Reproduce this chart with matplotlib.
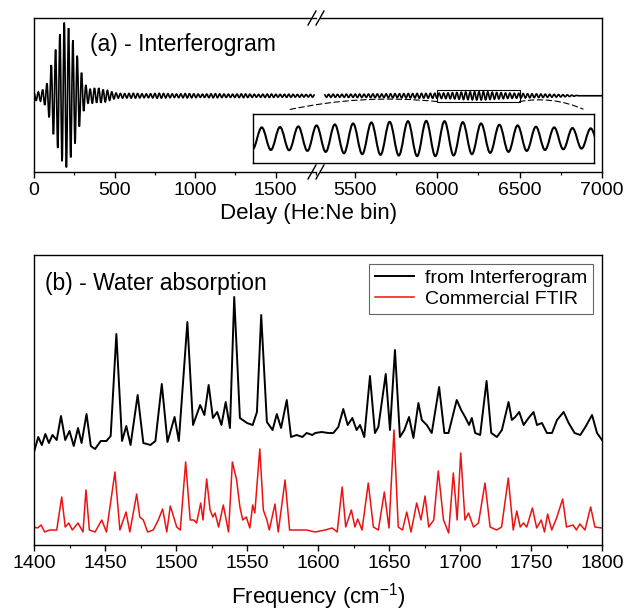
import numpy as np
import matplotlib
matplotlib.use("Agg")
import matplotlib.pyplot as plt
from matplotlib.path import Path
from matplotlib.patches import PathPatch, Rectangle, ConnectionPatch
from matplotlib.lines import Line2D
from matplotlib.ticker import MultipleLocator

plt.rcParams['font.family'] = ['Liberation Sans', 'DejaVu Sans']
plt.rcParams['mathtext.default'] = 'regular'

# ---- (a) interferogram: signed extremum values, one per half fringe ----
half_fringe = 13.4          # He:Ne bins between successive extrema
ifg_left_start = 0.0
ifg_left = [
    0.04, -0.06, 0.05, -0.07, 0.08, -0.12, 0.16, -0.28, 0.40, -0.50,
    0.60, -0.68, 0.80, -0.85, 0.95, -0.93, 0.88, -0.80, 0.72, -0.62,
    0.52, -0.40, 0.30, -0.20, 0.14, -0.10, 0.09, -0.10, 0.10, -0.09,
    0.10, -0.09, 0.08, -0.08, 0.07, -0.06, 0.05, -0.04, 0.035, -0.03,
    0.03, -0.03, 0.028, -0.028, 0.03, -0.03, 0.032, -0.03, 0.03, -0.028,
    0.026, -0.025, 0.024, -0.025, 0.026, -0.028, 0.03, -0.032, 0.032, -0.03,
    0.03, -0.028, 0.026, -0.025, 0.024, -0.022, 0.022, -0.024, 0.025, -0.026,
    0.028, -0.028, 0.027, -0.026, 0.025, -0.024, 0.022, -0.02, 0.02, -0.021,
    0.022, -0.024, 0.025, -0.026, 0.026, -0.025, 0.024, -0.023, 0.022, -0.022,
    0.021, -0.02, 0.02, -0.021, 0.022, -0.023, 0.024, -0.024, 0.023, -0.022,
    0.021, -0.02, 0.019, -0.018, 0.018, -0.019, 0.02, -0.021, 0.022, -0.022,
    0.021, -0.02, 0.019, -0.018, 0.018, -0.018, 0.019, -0.02, 0.02, -0.019,
    0.018, -0.017, 0.017, -0.018, 0.018, -0.017, 0.016, -0.016, 0.017, -0.017,
    0.016,
]
ifg_right_start = 5316.0
ifg_right = [
    0.018, -0.018, 0.019, -0.02, 0.02, -0.019, 0.018, -0.018, 0.019, -0.02,
    0.021, -0.021, 0.02, -0.02, 0.021, -0.022, 0.022, -0.022, 0.021, -0.021,
    0.022, -0.023, 0.024, -0.024, 0.024, -0.023, 0.023, -0.024, 0.025, -0.026,
    0.026, -0.027, 0.027, -0.026, 0.026, -0.027, 0.028, -0.029, 0.029, -0.028,
    0.028, -0.029, 0.03, -0.031, 0.031, -0.03, 0.03, -0.031, 0.032, -0.032,
    0.032, -0.033, 0.034, -0.035, 0.035, -0.036, 0.037, -0.038, 0.04, -0.041,
    0.043, -0.045, 0.046, -0.048, 0.049, -0.05, 0.051, -0.052, 0.053, -0.054,
    0.054, -0.054, 0.053, -0.052, 0.05, -0.048, 0.046, -0.044, 0.042, -0.041,
    0.04, -0.038, 0.036, -0.035, 0.034, -0.033, 0.032, -0.031, 0.031, -0.03,
    0.029, -0.028, 0.027, -0.026, 0.025, -0.024, 0.024, -0.023, 0.022, -0.022,
    0.021, -0.02, 0.019, -0.018, 0.018, -0.017, 0.016, -0.015, 0.014, -0.013,
    0.012, -0.01, 0.008, -0.006, 0.004,
]
ifg_flat_bins = [6860, 7000]
ifg_flat_vals = [0.0, 0.0]
zoom_window = (6000, 6500)
zoom_amp = 0.075

# ---- (b) water absorption (arb. units, interferogram trace offset) ----
freq_ifg = [
    1400, 1403, 1405.5, 1408, 1410.5, 1413, 1416, 1419, 1422, 1425,
    1428, 1431, 1433.5, 1437, 1440, 1443, 1447, 1451, 1454, 1458,
    1462, 1465, 1468, 1473, 1477, 1482, 1485.5, 1490, 1494, 1499,
    1502, 1508, 1512, 1517, 1520, 1523, 1526, 1529, 1532, 1535,
    1538, 1541, 1545, 1550, 1554, 1557, 1560, 1564, 1568, 1571,
    1574, 1578, 1581, 1585, 1589, 1592, 1596, 1598, 1602.6, 1607.3,
    1610.8, 1614.3, 1617.8, 1620.9, 1624.2, 1627.2, 1629.6, 1632.6, 1636.6, 1640.1,
    1642.5, 1647.7, 1650.7, 1654.2, 1657.7, 1660.8, 1664.1, 1667.2, 1670.7, 1673.1,
    1676.6, 1680.1, 1685.3, 1689.0, 1691.9, 1697.7, 1700.8, 1703.6, 1706.4, 1708.3,
    1710.7, 1714.2, 1718.7, 1722.0, 1726.0, 1729.5, 1734.2, 1736.5, 1738.9, 1741.7,
    1744.8, 1748.3, 1751.8, 1754.2, 1757.7, 1761.2, 1764.8, 1768.3, 1773.0, 1776.5,
    1780.7, 1784.7, 1788.3, 1793.0, 1796.5, 1800,
]
abs_ifg = [
    0.93, 1.08, 1.00, 1.11, 1.02, 1.10, 1.05, 1.29, 1.05, 1.14,
    0.99, 1.17, 1.02, 1.31, 0.99, 0.96, 1.04, 1.04, 1.09, 2.11,
    1.04, 1.19, 1.00, 1.50, 1.02, 1.00, 1.04, 1.61, 1.03, 1.28,
    1.04, 2.23, 1.20, 1.40, 1.30, 1.60, 1.27, 1.33, 1.20, 1.43,
    1.17, 2.48, 1.27, 1.22, 1.20, 1.33, 2.30, 1.23, 1.15, 1.31,
    1.17, 1.45, 1.08, 1.10, 1.08, 1.12, 1.10, 1.12, 1.13, 1.12,
    1.12, 1.18, 1.36, 1.20, 1.27, 1.15, 1.20, 1.08, 1.69, 1.12,
    1.18, 1.71, 1.15, 1.95, 1.08, 1.15, 1.28, 1.07, 1.42, 1.25,
    1.20, 1.12, 1.58, 1.12, 1.12, 1.45, 1.35, 1.28, 1.20, 1.27,
    1.12, 1.10, 1.64, 1.12, 1.08, 1.15, 1.43, 1.25, 1.28, 1.33,
    1.20, 1.27, 1.33, 1.20, 1.22, 1.12, 1.12, 1.25, 1.33, 1.22,
    1.12, 1.10, 1.18, 1.30, 1.12, 1.05,
]
freq_ftir = [
    1400, 1402.5, 1405, 1407.5, 1411, 1416, 1419.5, 1422, 1424.5, 1427,
    1431, 1434.5, 1436.6, 1439, 1443, 1447.7, 1451, 1457, 1460.5, 1464.8,
    1467.5, 1472.3, 1474.5, 1477, 1480, 1484, 1487.5, 1490.6, 1493.5, 1496,
    1500.5, 1503, 1506.8, 1510, 1512.5, 1514.5, 1517.4, 1519, 1521.6, 1524,
    1526, 1527.5, 1530, 1533.3, 1537, 1539.7, 1542.7, 1545, 1547, 1549.5,
    1552, 1554, 1555.5, 1559, 1561.5, 1564, 1565.7, 1569.7, 1572, 1576.8,
    1580, 1585, 1592, 1598, 1605, 1610, 1613.5, 1617, 1619.5, 1623.5,
    1626, 1628, 1631, 1635.4, 1639, 1642.5, 1646.7, 1650, 1653.5, 1656.5,
    1659.5, 1662.5, 1665.5, 1669.5, 1672.5, 1675.4, 1678, 1681.5, 1684.7, 1688.4,
    1692, 1695.3, 1698, 1700.5, 1703.5, 1706, 1709.5, 1713, 1717.6, 1721.2,
    1725.8, 1729.3, 1734, 1737.5, 1740, 1742.4, 1744.7, 1747, 1751, 1754,
    1757.2, 1759.5, 1761.7, 1764.6, 1768, 1772.3, 1775, 1779.6, 1782, 1784.4,
    1788, 1792, 1795, 1800,
]
abs_ftir = [
    0.18, 0.17, 0.20, 0.13, 0.15, 0.15, 0.48, 0.18, 0.22, 0.15,
    0.22, 0.13, 0.55, 0.15, 0.13, 0.25, 0.13, 0.73, 0.15, 0.33,
    0.13, 0.51, 0.28, 0.25, 0.13, 0.15, 0.25, 0.36, 0.13, 0.39,
    0.18, 0.15, 0.83, 0.25, 0.25, 0.22, 0.42, 0.25, 0.66, 0.35,
    0.28, 0.32, 0.18, 0.40, 0.13, 0.83, 0.65, 0.38, 0.25, 0.28,
    0.17, 0.40, 0.32, 0.96, 0.35, 0.25, 0.15, 0.41, 0.13, 0.65,
    0.15, 0.15, 0.15, 0.13, 0.15, 0.17, 0.13, 0.58, 0.18, 0.35,
    0.18, 0.26, 0.15, 0.62, 0.18, 0.15, 0.53, 0.17, 1.15, 0.18,
    0.15, 0.33, 0.13, 0.42, 0.25, 0.49, 0.18, 0.25, 0.74, 0.25,
    0.12, 0.72, 0.25, 0.92, 0.25, 0.32, 0.18, 0.22, 0.62, 0.18,
    0.15, 0.18, 0.67, 0.15, 0.34, 0.18, 0.22, 0.18, 0.37, 0.17,
    0.25, 0.13, 0.31, 0.15, 0.27, 0.46, 0.18, 0.20, 0.15, 0.21,
    0.15, 0.38, 0.18, 0.17,
]


def fringe_patch(x, y, lw=1.0):
    """smooth fringe line through the extrema (horizontal tangent at each one)"""
    verts = [(x[0], y[0])]
    codes = [Path.MOVETO]
    for i in range(1, len(x)):
        dx = x[i] - x[i - 1]
        verts += [(x[i - 1] + 0.36 * dx, y[i - 1]), (x[i] - 0.36 * dx, y[i]), (x[i], y[i])]
        codes += [Path.CURVE4] * 3
    return PathPatch(Path(verts, codes), fill=False, ec='k', lw=lw)


x_left = ifg_left_start + half_fringe * np.arange(len(ifg_left))
x_right = ifg_right_start + half_fringe * np.arange(len(ifg_right))
x_right = np.concatenate([x_right, ifg_flat_bins])
y_right = np.concatenate([ifg_right, ifg_flat_vals])

W, H = 625, 613
fig = plt.figure(figsize=(W / 100, H / 100), dpi=100)


def frac(x0, y0, x1, y1):
    return [x0 / W, 1 - y1 / H, (x1 - x0) / W, (y1 - y0) / H]


ax_l = fig.add_axes(frac(34, 18, 316, 172))
ax_r = fig.add_axes(frac(320, 18, 602, 172))
ax_b = fig.add_axes(frac(34, 255, 602, 545))

for ax in (ax_l, ax_r, ax_b):
    for s in ax.spines.values():
        s.set_linewidth(1.0)
    ax.tick_params(axis='x', direction='out', length=4, width=1.0, labelsize=14, pad=3)
    ax.tick_params(axis='x', which='minor', direction='out', length=2.5, width=0.9)
    ax.set_yticks([])

ax_l.add_patch(fringe_patch(x_left, ifg_left, 1.2))
ax_r.add_patch(fringe_patch(x_right, y_right, 1.2))
ax_l.set_xlim(0, 1750)
ax_r.set_xlim(5290, 7000)
for ax in (ax_l, ax_r):
    ax.set_ylim(-0.99, 1.01)
    ax.xaxis.set_major_locator(MultipleLocator(500))
    ax.xaxis.set_minor_locator(MultipleLocator(250))
ax_l.spines['right'].set_visible(False)
ax_r.spines['left'].set_visible(False)
ax_r.tick_params(axis='y', left=False)

ax_l.text(0.199, 0.83, '(a) - Interferogram', transform=ax_l.transAxes,
          fontsize=16.5, va='center', ha='left')
fig.text(309 / W, 1 - 214 / H, 'Delay (He:Ne bin)', fontsize=16, ha='center', va='center')

# break marks on the top and bottom spines
for yb in (18, 172):
    for xc in (312, 320):
        fig.add_artist(Line2D([(xc - 4) / W, (xc + 4) / W], [1 - (yb + 7) / H, 1 - (yb - 7) / H],
                              transform=fig.transFigure, color='k', lw=1.0))

# zoomed inset of the 6000-6500 window
ax_in = fig.add_axes(frac(253, 114, 594, 163))
ax_in.add_patch(fringe_patch(x_right, y_right, 1.5))
ax_in.set_xlim(*zoom_window)
ax_in.set_ylim(-zoom_amp, zoom_amp)
ax_in.set_xticks([])
ax_in.set_yticks([])
for s in ax_in.spines.values():
    s.set_linewidth(1.0)

ax_r.add_patch(Rectangle((zoom_window[0], -zoom_amp), zoom_window[1] - zoom_window[0], 2 * zoom_amp,
                         fill=False, ec='k', lw=0.8))
for xa, xb, yb, rad in ((zoom_window[0], 0.1, 1.08, 0.08), (zoom_window[1], 0.968, 1.1, -0.15)):
    con = ConnectionPatch(xyA=(xa, -zoom_amp), coordsA=ax_r.transData,
                          xyB=(xb, yb), coordsB=ax_in.transAxes,
                          ls=(0, (5, 3)), lw=0.8, color='k',
                          connectionstyle=f"arc3,rad={rad}")
    fig.add_artist(con)

# ---- panel (b) ----
ax_b.plot(freq_ifg, abs_ifg, color='k', lw=1.4, label='from Interferogram')
ax_b.plot(freq_ftir, abs_ftir, color='#ee1111', lw=1.1, label='Commercial FTIR')
ax_b.set_xlim(1400, 1800)
ax_b.set_ylim(0, 2.90)
ax_b.xaxis.set_major_locator(MultipleLocator(50))
ax_b.xaxis.set_minor_locator(MultipleLocator(25))
ax_b.set_xlabel('Frequency (cm$^{-1}$)', fontsize=16, labelpad=7)
ax_b.text(0.019, 0.903, '(b) - Water absorption', transform=ax_b.transAxes,
          fontsize=16.5, va='center', ha='left')
leg = ax_b.legend(loc='upper right', fontsize=14, frameon=True, fancybox=False,
                  edgecolor='0.25', handlelength=2.0, handletextpad=0.6,
                  borderaxespad=0.45, borderpad=0.3, labelspacing=0.15)
leg.get_frame().set_linewidth(0.8)

fig.savefig('out.png', dpi=100)
